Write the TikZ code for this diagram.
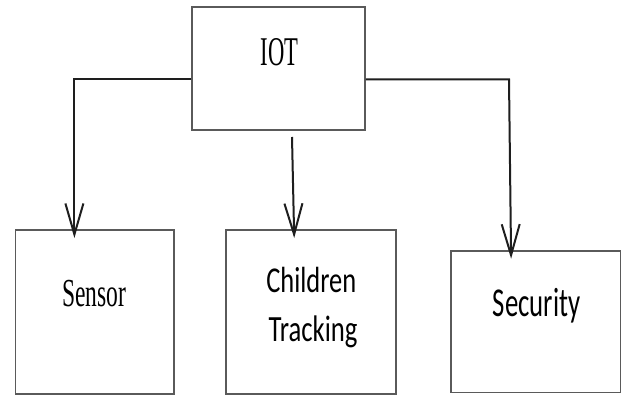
\documentclass[tikz,border=0pt]{standalone}
\usepackage{fontspec}
\usepackage{graphicx}
\usetikzlibrary{arrows.meta}
\newfontfamily\serfont{Liberation Serif}
\newfontfamily\calfont{Carlito}
\newcommand\fitw[2]{\resizebox{#1}{\height}{#2}}
\definecolor{boxgray}{RGB}{90,90,90}
\definecolor{linedark}{RGB}{30,30,30}
\begin{document}
\begin{tikzpicture}[x=1pt,y=-1pt,
  blk/.style={draw=boxgray, line width=1.9pt, fill=white, rectangle, inner sep=0pt},
  txt/.style={inner sep=0pt, anchor=base, text=black},
  conn/.style={draw=linedark, line width=2pt, line join=miter,
    -{Straight Barb[length=31pt,width=18pt,line width=2pt]}, shorten >=-9pt}]
\useasboundingbox (0,0) rectangle (621,395);
\fill[white] (0,0) rectangle (621,395);
% boxes
\node[blk, minimum width=172.7pt, minimum height=122.7pt] (iot) at (278.65,68.65) {};
\node[blk, minimum width=158.8pt, minimum height=164pt] (sensor) at (94.9,312) {};
\node[blk, minimum width=170.3pt, minimum height=164pt] (children) at (310.85,312) {};
\node[blk, minimum width=169.8pt, minimum height=141.8pt] (security) at (535.6,321.6) {};
% texts
\node[txt] (tiot) at (279.5,65.7) {\fitw{37.7pt}{\serfont\fontsize{40.8}{44}\selectfont IOT}};
\node[txt] (tsensor) at (94.3,307) {\fitw{64pt}{\serfont\fontsize{39.7}{44}\selectfont Sensor}};
\node[txt] (tchild) at (311.3,293) {\fitw{90pt}{\calfont\fontsize{36.4}{40}\selectfont Children}};
\node[txt] (ttrack) at (313,341.7) {\fitw{89pt}{\calfont\fontsize{37}{40}\selectfont Tracking}};
\node[txt] (tsec) at (536.7,316.7) {\fitw{87.5pt}{\calfont\fontsize{41}{44}\selectfont Security}};
% connector corners
\coordinate (lc) at (74.4,79.3);
\coordinate (rc) at (509,79.3);
\coordinate (mtop) at (292,137);
% connectors
\draw[conn] (iot.west |- lc) -- (lc) -- (sensor.north -| lc);
\draw[conn] (iot.east |- rc) -- (rc) -- ([xshift=2pt]security.north -| rc);
\draw[conn] (mtop) -- ([xshift=2pt]children.north -| mtop);
\end{tikzpicture}
\end{document}
